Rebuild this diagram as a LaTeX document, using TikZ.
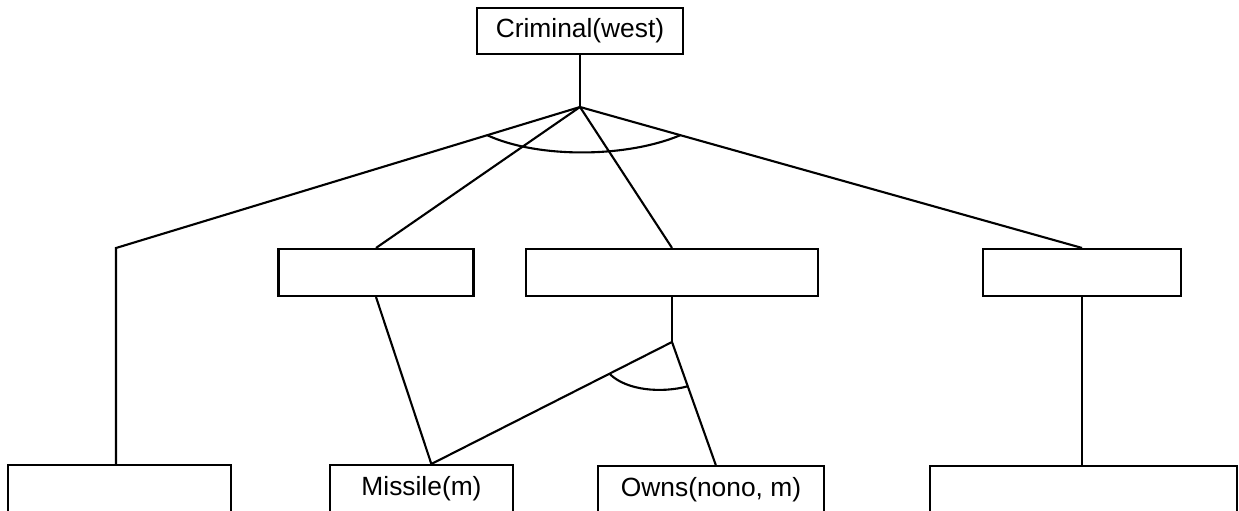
\documentclass[tikz,border=0pt]{standalone}
\usepackage{fontspec}
\setmainfont{Liberation Sans}
\usetikzlibrary{calc}

\begin{document}
\begin{tikzpicture}[
    x=0.02cm, y=-0.02cm,
    box/.style={
      draw=black,
      line width=1.2pt,
      inner sep=0pt,
      minimum height=0.94cm,
      font=\fontsize{15}{18}\selectfont
    },
    leaf/.style={
      box,
      anchor=north,
      text height=17.6pt,
      text depth=12pt
    },
    link/.style={line width=1.2pt, draw=black}
  ]
    \useasboundingbox (0,0) rectangle (1239,510);
    \clip (0,0) rectangle (1239,510);

    \node[box, minimum width=4.12cm, minimum height=0.92cm] (goal) at (580,31) {Criminal(west)};

    \node[box, minimum width=3.9cm] (sub1) at (376,272.5) {};
    \node[box, minimum width=5.84cm] (sub2) at (672,272.5) {};
    \node[box, minimum width=3.96cm] (sub3) at (1082,272.5) {};

    \node[leaf, minimum width=4.46cm] (fact1) at (119.5,464) {};
    \node[leaf, minimum width=3.66cm] (missile) at (421.5,464) {Missile(m)};
    \node[leaf, minimum width=4.52cm] (owns) at (711,465) {Owns(nono, m)};
    \node[leaf, minimum width=6.14cm] (fact4) at (1083.5,465) {};

    \coordinate (hub) at (580,107);
    \coordinate (bend) at (116,248);
    \coordinate (fork) at (672,342);

    \draw[link] (goal.south) -- (hub);
    \draw[link] (hub) -- (bend) -- (fact1.north -| bend);
    \draw[link] (hub) -- (sub1.north);
    \draw[link] (hub) -- (sub2.north);
    \draw[link] (hub) -- (sub3.north);
    \draw[link] (sub3.south) -- (fact4.north -| sub3.south);

    \draw[link] (sub1.south) -- (missile.70);
    \draw[link] (sub2.south) -- (fork);
    \draw[link] (fork) -- (missile.70);
    \draw[link] (fork) -- (owns.80);

    % and-arcs
    \draw[link] ($(hub)!0.2!(bend)$) .. controls +(50,23) and +(-55,23) .. ($(hub)!0.2!(sub3.north)$);
    \draw[link] ($(fork)!0.26!(missile.70)$) .. controls +(17,17) and +(-26,7) .. ($(fork)!0.36!(owns.80)$);
  \end{tikzpicture}
\end{document}
